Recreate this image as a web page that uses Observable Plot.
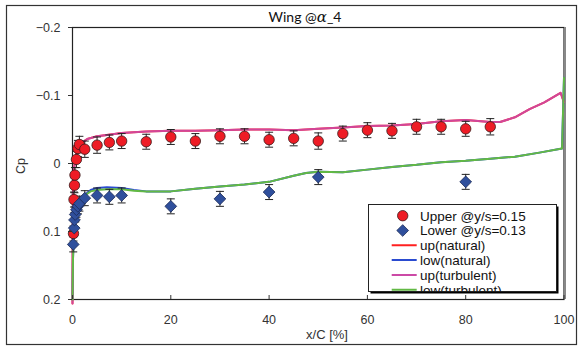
<!DOCTYPE html>
<html>
<head>
<meta charset="utf-8">
<script src="https://cdn.jsdelivr.net/npm/d3@7"></script>
<script src="https://cdn.jsdelivr.net/npm/@observablehq/plot@0.6"></script>
<style>
  html, body { margin: 0; padding: 0; background: #fff; }
  #chart svg { display: block; }
</style>
</head>
<body>
<div id="chart"></div>
<script>
// ---- data ----
const titleMain = "Wing @";
const titleGreek = "α";
const titleTail = "_4";
const yLabel = "Cp";
const xLabel = "x/C [%]";
const xTicks = [0, 20, 40, 60, 80, 100];
const yTicks = [-0.2, -0.1, 0, 0.1, 0.2];

// experiment: upper surface (red circles)
const upperX   = [0.2, 0.3, 0.4, 0.5, 0.8, 1.1, 1.4, 2.5, 5, 7.5, 10, 15, 20, 25, 30, 35, 40, 45, 50, 55, 60, 65, 70, 75, 80, 85];
const upperCp  = [0.103, 0.053, 0.032, 0.017, -0.006, -0.022, -0.028, -0.021, -0.027, -0.031, -0.033, -0.032, -0.039, -0.033, -0.040, -0.040, -0.035, -0.037, -0.033, -0.044, -0.049, -0.048, -0.054, -0.054, -0.051, -0.054];
const upperErr = [0.011, 0.011, 0.011, 0.011, 0.012, 0.012, 0.012, 0.012, 0.012, 0.011, 0.011, 0.011, 0.011, 0.011, 0.011, 0.011, 0.011, 0.011, 0.012, 0.011, 0.011, 0.011, 0.011, 0.011, 0.011, 0.012];

// experiment: lower surface (blue diamonds)
const lowerX   = [0.15, 0.35, 0.4, 0.55, 0.8, 1.1, 1.4, 2.5, 5, 7.5, 10, 20, 30, 40, 50, 80];
const lowerCp  = [0.119, 0.095, 0.083, 0.075, 0.068, 0.063, 0.059, 0.051, 0.047, 0.049, 0.047, 0.063, 0.052, 0.042, 0.020, 0.027];
const lowerErr = [0.011, 0.011, 0.011, 0.011, 0.011, 0.011, 0.011, 0.011, 0.011, 0.011, 0.011, 0.011, 0.011, 0.011, 0.011, 0.011];

// computations
const upNatX   = [0, 0.05, 0.15, 0.3, 0.5, 1, 2, 3, 5, 7, 10, 15, 20, 25, 30, 35, 40, 45, 50, 55, 60, 65, 70, 75, 80, 85, 87, 90, 93, 96, 99.3, 100];
const upNatCp  = [0.206, 0.1, 0.04, 0.01, -0.005, -0.022, -0.031, -0.036, -0.040, -0.042, -0.045, -0.047, -0.048, -0.048, -0.049, -0.050, -0.050, -0.049, -0.051, -0.053, -0.055, -0.056, -0.058, -0.062, -0.064, -0.061, -0.061, -0.068, -0.080, -0.090, -0.104, -0.090];
const upTurbX  = upNatX.slice();
const upTurbCp = [0.206, 0.1, 0.04, 0.01, -0.005, -0.022, -0.031, -0.036, -0.040, -0.042, -0.045, -0.047, -0.048, -0.048, -0.049, -0.050, -0.050, -0.049, -0.051, -0.053, -0.055, -0.056, -0.058, -0.062, -0.064, -0.061, -0.061, -0.068, -0.080, -0.090, -0.104, -0.090];
const lowNatX   = [0, 0.1, 0.3, 0.6, 1, 1.6, 2.5, 3.7, 5, 7, 10, 12.5, 15, 20, 25, 30, 35, 40, 45, 47.5, 50, 55, 60, 65, 70, 75, 80, 85, 90, 95, 99.6, 100];
const lowNatCp  = [0.2, 0.14, 0.1, 0.08, 0.068, 0.055, 0.046, 0.039, 0.036, 0.035, 0.036, 0.039, 0.041, 0.041, 0.037, 0.034, 0.031, 0.027, 0.018, 0.014, 0.012, 0.013, 0.009, 0.005, 0.002, -0.002, -0.004, -0.007, -0.010, -0.016, -0.022, -0.126];
const lowTurbX  = lowNatX.slice();
const lowTurbCp = [0.2, 0.14, 0.1, 0.08, 0.068, 0.056, 0.047, 0.041, 0.039, 0.038, 0.038, 0.040, 0.041, 0.041, 0.037, 0.034, 0.031, 0.027, 0.018, 0.014, 0.012, 0.013, 0.009, 0.005, 0.002, -0.002, -0.004, -0.007, -0.010, -0.016, -0.022, -0.126];

const legendLabels = ["Upper @y/s=0.15", "Lower @y/s=0.13", "up(natural)", "low(natural)", "up(turbulent)", "low(turbulent)"];
const colors = { upper: "#ee1c25", lower: "#2f4f9c", upNat: "#ff2020", lowNat: "#2a4bd0", upTurb: "#cc4aa6", lowTurb: "#62b944" };

// ---- tables ----
const upper = upperX.map((x, i) => ({x, cp: upperCp[i], err: upperErr[i]}));
const lower = lowerX.map((x, i) => ({x, cp: lowerCp[i], err: lowerErr[i]}));
const pts = (xs, ys) => xs.map((x, i) => ({x, cp: ys[i]}));
const upNat = pts(upNatX, upNatCp), upTurb = pts(upTurbX, upTurbCp);
const lowNat = pts(lowNatX, lowNatCp), lowTurb = pts(lowTurbX, lowTurbCp);

const capSymbol = { draw(ctx, size) { const w = Math.sqrt(size / Math.PI); ctx.moveTo(-w, 0); ctx.lineTo(w, 0); } };
const barColor = "#222";
const fontTick = "'Liberation Sans', Arial, sans-serif";

function bars(data) {
  return [
    Plot.ruleX(data, {x: "x", y1: d => d.cp - d.err, y2: d => d.cp + d.err, stroke: barColor, strokeWidth: 1}),
    Plot.dot(data, {x: "x", y: d => d.cp - d.err, symbol: capSymbol, r: 4, stroke: barColor, fill: "none", strokeWidth: 1}),
    Plot.dot(data, {x: "x", y: d => d.cp + d.err, symbol: capSymbol, r: 4, stroke: barColor, fill: "none", strokeWidth: 1})
  ];
}

const chart = Plot.plot({
  width: 579,
  height: 347,
  marginLeft: 72,
  marginRight: 15.5,
  marginTop: 27,
  marginBottom: 48,
  style: { background: "#fff", fontFamily: fontTick, fontSize: "12.5px", color: "#333" },
  x: { domain: [0, 100], label: null },
  y: { domain: [-0.2, 0.2], reverse: true, label: null },
  marks: [
    Plot.frame({stroke: "#222", strokeWidth: 1.2}),
    Plot.ruleX([100], {stroke: "#888", strokeWidth: 2, dx: 1}),
    Plot.line(upNat, {x: "x", y: "cp", stroke: colors.upNat, strokeWidth: 2}),
    Plot.line(lowNat, {x: "x", y: "cp", stroke: colors.lowNat, strokeWidth: 2}),
    Plot.line(upTurb, {x: "x", y: "cp", stroke: colors.upTurb, strokeWidth: 2, strokeOpacity: 0.9}),
    Plot.line(lowTurb, {x: "x", y: "cp", stroke: colors.lowTurb, strokeWidth: 2}),
    ...bars(upper),
    ...bars(lower),
    Plot.dot(upper, {x: "x", y: "cp", r: 5.2, fill: colors.upper, stroke: "#3a1a1a", strokeWidth: 0.8}),
    Plot.dot(lower, {x: "x", y: "cp", r: 5.3, symbol: "diamond2", fill: colors.lower, stroke: "#1a2a55", strokeWidth: 0.8}),
    Plot.axisY({ticks: yTicks, tickSize: 4, tickPadding: 8, tickFormat: d => d === 0 ? "0" : d3.format(".1f")(d), fill: "#333", label: null}),
    Plot.axisX({ticks: xTicks, tickSize: -4, tickPadding: 20, tickFormat: d => String(d), fill: "#333", label: null})
  ]
});

document.getElementById("chart").appendChild(chart);

// ---- annotations: outer frame, title, axis labels, legend ----
const svg = d3.select(chart);
svg.insert("rect", ":first-child")
  .attr("x", 6.5).attr("y", 5.5).attr("width", 570).attr("height", 339)
  .attr("fill", "#fff").attr("stroke", "#333").attr("stroke-width", 1.2);

const title = svg.append("text")
  .attr("x", 305).attr("y", 22).attr("text-anchor", "middle")
  .attr("font-family", "Lato, 'Open Sans', sans-serif").attr("font-size", 14).attr("fill", "#111");
title.append("tspan").text(titleMain);
title.append("tspan").attr("font-style", "italic").attr("font-family", "'DejaVu Serif', serif").attr("font-size", 15).text(titleGreek);
title.append("tspan").text(titleTail);

svg.append("text")
  .attr("transform", "translate(25,166) rotate(-90)")
  .attr("text-anchor", "middle")
  .attr("font-family", fontTick).attr("font-size", 12.5).attr("fill", "#333")
  .text(yLabel);

svg.append("text")
  .attr("x", 327).attr("y", 339).attr("text-anchor", "middle")
  .attr("font-family", fontTick).attr("font-size", 13).attr("fill", "#333")
  .text(xLabel);

// legend
const lg = { x: 368.5, y: 204.5, w: 188, h: 87 };
svg.append("rect").attr("x", lg.x + 2).attr("y", lg.y + 2).attr("width", lg.w).attr("height", lg.h).attr("fill", "#000");
svg.append("rect").attr("x", lg.x).attr("y", lg.y).attr("width", lg.w).attr("height", lg.h).attr("fill", "#fff").attr("stroke", "#222").attr("stroke-width", 1);
const defs = svg.append("defs");
defs.append("clipPath").attr("id", "lgclip").append("rect").attr("x", lg.x).attr("y", lg.y).attr("width", lg.w).attr("height", lg.h);
const lgG = svg.append("g").attr("clip-path", "url(#lgclip)").attr("text-anchor", "start");
const rowY = i => 215.7 + i * 14.8;
const lineColors = [null, null, colors.upNat, colors.lowNat, colors.upTurb, colors.lowTurb];
legendLabels.forEach((label, i) => {
  const y = rowY(i);
  if (i === 0) {
    lgG.append("circle").attr("cx", 402.7).attr("cy", y).attr("r", 5.2).attr("fill", colors.upper).attr("stroke", "#3a1a1a").attr("stroke-width", 0.8);
  } else if (i === 1) {
    lgG.append("path").attr("transform", `translate(402.7,${y})`).attr("d", d3.symbol(d3.symbolDiamond2, Math.PI * 28)()).attr("fill", colors.lower).attr("stroke", "#1a2a55").attr("stroke-width", 0.8);
  } else {
    lgG.append("line").attr("x1", 391.7).attr("x2", 416.7).attr("y1", y).attr("y2", y).attr("stroke", lineColors[i]).attr("stroke-width", 2);
  }
  lgG.append("text").attr("x", 420).attr("y", y + 4.8).attr("text-anchor", "start")
    .attr("font-family", fontTick).attr("font-size", 13.5).attr("fill", "#111")
    .text(label);
});
</script>
</body>
</html>
